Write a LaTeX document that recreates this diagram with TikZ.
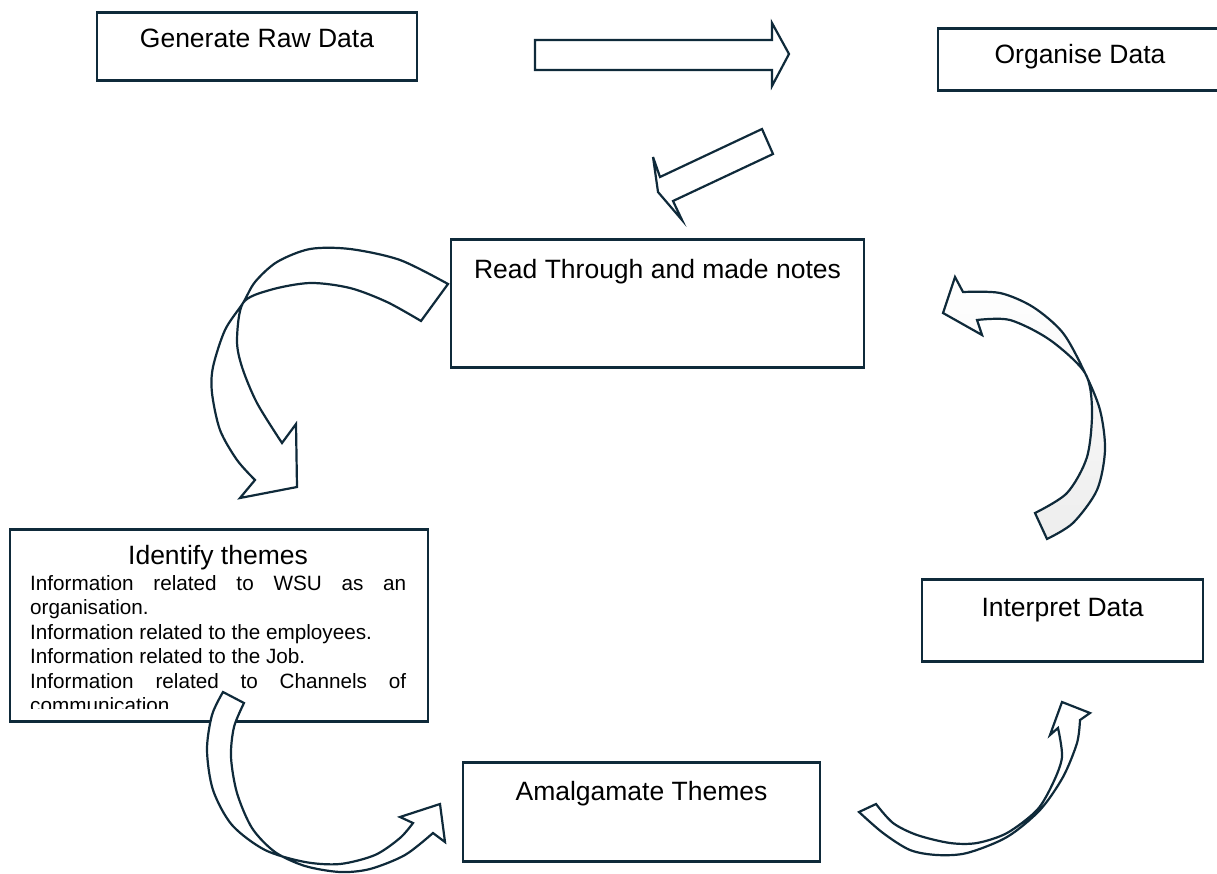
\documentclass[tikz,border=0pt]{standalone}
\usepackage{fontspec}
\setmainfont{Liberation Sans}
\usetikzlibrary{positioning}
\definecolor{linenavy}{HTML}{0F2A3A}

\begin{document}
\begin{tikzpicture}[
            x=1pt, y=-1pt,
            box/.style={rectangle, draw=linenavy, line width=2.7pt, inner sep=0pt, anchor=north,
                        font=\fontsize{26.5}{30}\selectfont},
            blk/.style={draw=linenavy, line width=2.2pt, fill=white, line join=miter},
            txt/.style={inner sep=0pt, font=\fontsize{20.7}{24.5}\selectfont}
        ]
        \useasboundingbox (0,0) rectangle (1217,874);

        % Process boxes
        \node[box, minimum width=320pt, text height=35pt, text depth=33pt] (raw)    at (257,11)    {Generate Raw Data};
        \node[box, minimum width=284pt, text height=35pt, text depth=27pt] (organ)  at (1080,27)   {Organise Data};
        \node[box, minimum width=413pt, text height=39pt, text depth=89pt] (notes)  at (657.5,238) {Read Through and made notes};
        \node[box, minimum width=281pt, text height=37pt, text depth=45pt] (interp) at (1062.5,578) {Interpret Data};
        \node[box, minimum width=357pt, text height=38pt, text depth=61pt] (amalg)  at (641.5,761) {Amalgamate Themes};

        % Themes box with its list
        \node[box, minimum width=418pt, minimum height=192pt] (themes) at (219,528) {};
        \node[box, draw=none, anchor=base] (themestitle) at (218,564) {Identify themes};
        \begin{scope}
            \clip (10,528) rectangle (428,708);
            \node[txt, anchor=north west, text width=376pt, align=justify] (themeslist) at (30,575)
                {\parindent=0pt\tolerance=10000
                 Information related to WSU as an \mbox{organisation.}\par
                 Information related to the employees.\par
                 Information related to the Job.\par
                 Information related to Channels of \mbox{communication.}};
        \end{scope}

        % Straight block arrows
        \draw[blk] (535,40) -- (772,40) -- (772,23) -- (789,54) -- (772,86) -- (772,70) -- (535,70) -- cycle;
        \draw[blk] (762,129) -- (773,154) -- (673,201) -- (682,220) -- (658,192) -- (653,157) -- (660,177) -- cycle;

        % Curved arrow: notes -> themes
        \draw[blk] plot[smooth] coordinates {(448,284) (400,260) (350,249) (310,249) (277,262) (255,282) (243,303)
                (225,330) (213,367) (212,393) (220,430) (237,460) (255,480)}
            -- (240,498) -- (297,487) -- (296,424) -- (282,443)
            -- plot[smooth] coordinates {(282,443) (257,403) (242,367) (237,340) (243,303) (270,290) (310,283)
                (350,288) (387,302) (421,321)} -- cycle;

        % Curved arrow: interpret -> notes
        \draw[blk, top color=white, bottom color=black!7] plot[smooth] coordinates {(1047,539) (1073,523) (1097,490)
                (1105,450) (1100,410) (1085,373) (1063,333) (1033,307) (1000,293) (963,292)}
            -- (955,277) -- (943,313) -- (982,335) -- (977,320)
            -- plot[smooth] coordinates {(977,320) (1010,320) (1050,340) (1085,373) (1092,410) (1087,457)
                (1067,493) (1035,513)} -- cycle;

        % Curved arrow: themes -> amalgamate
        \draw[blk] plot[smooth] coordinates {(223,692) (212,715) (207,750) (213,790) (232,825) (265,850)
                (305,862) (340,864) (375,855) (400,838) (413,823)}
            -- (400,817) -- (440,804) -- (445,842) -- (433,833)
            -- plot[smooth] coordinates {(433,833) (405,855) (370,869) (340,872) (305,866) (275,852)
                (252,828) (237,793) (231,757) (234,727) (244,703)} -- cycle;

        % Curved arrow: amalgamate -> interpret
        \draw[blk] plot[smooth] coordinates {(859,812) (883,833) (910,850) (937,855) (967,853) (1007,837)
                (1040,810) (1063,777) (1077,743) (1080,720)}
            -- (1090,713) -- (1062,702) -- (1050,735) -- (1058,728)
            -- plot[smooth] coordinates {(1058,728) (1062,757) (1053,783) (1037,810) (1007,833) (977,843)
                (950,843) (917,835) (893,823) (876,804)} -- cycle;
    \end{tikzpicture}
\end{document}
